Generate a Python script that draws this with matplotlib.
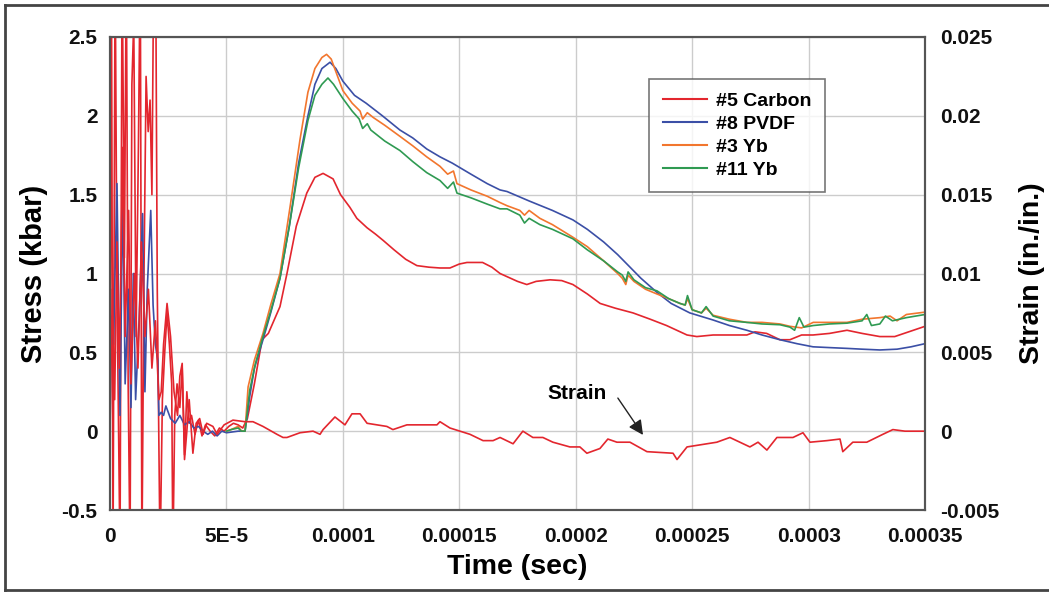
import matplotlib
matplotlib.use("Agg")
import matplotlib.pyplot as plt
from matplotlib.lines import Line2D
import numpy as np

# ---------------- data (time in microseconds, stress in kbar) ----------------
carbon_t = [0, 0.6, 1.3, 2.2, 3.0, 4.3, 5.2, 6.2, 7.0, 7.8, 8.6, 9.4, 10.2, 11.2, 12.2, 13.0,
            13.7, 14.6, 15.5, 16.4, 17.2, 18.0, 18.8, 19.6, 20.3, 21.5, 22.5, 23.5, 24.5,
            25.5, 26.5, 27.0, 27.8, 28.8, 30.0, 31.0, 32.0, 33.0, 34.0, 35.0, 36.5, 38, 39.5,
            41, 43, 45, 47, 49, 51, 53, 55, 57, 59, 62, 65.3, 68, 73, 76, 80, 84.5, 88, 91.5,
            95.8, 99, 103, 106, 110.4, 114, 117.3, 122, 127, 131.8, 137, 141.7, 146, 150,
            153.3, 156, 160, 164, 167.5, 170.5, 175, 179, 183, 189, 194, 198.8, 205, 210.5,
            217, 224.6, 232, 239, 247.8, 252, 259, 266, 273.5, 277, 282, 287.7, 292, 297,
            301.9, 309, 316.5, 323, 330.6, 337, 343, 350]
carbon_v = [0, 3.0, -0.8, 3.0, 0.9, -0.8, 3.0, 1.1, 3.0, 0.3, -0.8, 2.2, 2.6, 0.6, 1.8, 3.0,
            -0.8, 1.0, 2.25, 1.9, 2.1, 1.5, 3.0, 3.0, 0.9, -0.8, 0.2, 0.5, 0.75,
            0.55, 0.3, -0.8, 0.1, 0.3, 0.15, 0.4, -0.15, 0.25, 0.05, 0.1, -0.02, 0.07, -0.03,
            0.04, 0.0, -0.03, 0.02, 0.0, 0.03, 0.05, 0.04, 0.02, 0.08, 0.3, 0.58, 0.62, 0.79,
            1.0, 1.3, 1.51, 1.61, 1.635,
            1.6, 1.5, 1.42, 1.35, 1.29, 1.25, 1.21, 1.15, 1.09, 1.05, 1.04, 1.035, 1.035, 1.06,
            1.07, 1.07, 1.07, 1.04, 1.0, 0.98, 0.95, 0.93, 0.95, 0.96, 0.955, 0.93, 0.87, 0.81,
            0.78, 0.75, 0.71, 0.67, 0.61, 0.60, 0.61, 0.61, 0.61, 0.63, 0.62, 0.58, 0.58, 0.61,
            0.61, 0.62, 0.64, 0.62, 0.60, 0.60, 0.63, 0.665]

pvdf_t = [0, 0.5, 1.5, 3.0, 4.3, 5.5, 6.5, 8.0, 9.0, 10.0, 11.0, 12.5, 14.0, 15.0, 16.0, 17.5,
          18.5, 19.5, 20.5, 21.0, 22.0, 23.0, 24.0, 26.0, 28.0, 30.0, 32.0, 34.0, 36.0, 38.0,
          40.0, 42.0, 44.0, 46.0, 48.0, 50.0, 55.0, 58, 60, 62, 65.7, 69, 73, 77, 81, 85,
          88, 91, 94.5, 97, 100, 105, 110, 117, 124.5, 130, 136, 141.7, 147, 155, 162, 167.5,
          170.5, 180, 190, 198.8, 205, 212, 218, 222, 228, 234.9, 241, 249, 259, 266, 273.5,
          280, 287.7, 295, 301.9, 309, 316.5, 323, 330.6, 338, 344, 350]
pvdf_v = [0.0, 0.73, 0.55, 1.57, 0.1, 1.57, 0.3, 0.9, 0.15, 1.0, 0.2, 0.7, 1.38, 0.25, 0.9, 1.4,
          0.8, 0.55, 0.45, 0.1, 0.12, 0.1, 0.16, 0.08, 0.05, 0.1, 0.04, 0.06, 0.02, 0.03,
          0.0, -0.02, 0.0, -0.03, 0.0, -0.01, 0.0, 0.0, 0.22, 0.40, 0.58, 0.75, 0.97, 1.3,
          1.7, 2.0, 2.2, 2.3, 2.34, 2.3, 2.22, 2.13, 2.08, 2.0, 1.91, 1.86, 1.79, 1.74, 1.70,
          1.63, 1.57, 1.53, 1.52, 1.46, 1.40, 1.34, 1.28, 1.20, 1.12, 1.06, 0.97, 0.88, 0.81,
          0.75, 0.705, 0.67, 0.64, 0.61, 0.58, 0.555, 0.535, 0.53, 0.525, 0.52, 0.515, 0.52,
          0.535, 0.555]

yb3_t = [50, 52, 55, 56.5, 58, 59.3, 62, 65.7, 69, 73, 77.3, 81.6, 85, 88, 91, 93, 95, 97, 100,
         104, 107.4, 108.5, 110.5, 113, 118, 124.5, 130, 136, 141.7, 145, 147.5, 149, 155, 162,
         167.5, 170.5, 176, 178, 180, 184.6, 190, 198.8, 205, 212, 218, 220, 221.5, 222.5, 225,
         230, 234.9, 240, 244.8, 247, 248, 250, 254, 256, 259, 266, 273.5, 280, 287.7, 292,
         297, 302, 309, 316.5, 323, 330.6, 335, 338, 342, 350]
yb3_v = [0.0, 0.01, 0.03, 0.0, 0.0, 0.28, 0.45, 0.62, 0.80, 1.0, 1.42, 1.85, 2.15, 2.3, 2.37,
         2.39, 2.36, 2.28, 2.16, 2.08, 2.03, 1.98, 2.02, 1.99, 1.94, 1.87, 1.81, 1.74, 1.68,
         1.63, 1.65, 1.57, 1.53, 1.49, 1.45, 1.43, 1.40, 1.37, 1.40, 1.35, 1.31, 1.23, 1.17,
         1.08, 1.0, 0.97, 0.93, 0.99, 0.95, 0.90, 0.87, 0.84, 0.81, 0.80, 0.84, 0.77, 0.75,
         0.78, 0.735, 0.71, 0.69, 0.69, 0.68, 0.665, 0.655, 0.69, 0.69, 0.69, 0.71, 0.72,
         0.73, 0.70, 0.74, 0.755]

yb11_t = [50, 52, 55, 56.5, 58, 60, 62.5, 65.7, 69, 73, 77, 81, 85, 88, 91, 93.6, 96, 100, 104,
          107, 108.5, 110.5, 112, 118, 124.5, 130, 136, 141.7, 145, 147.5, 149, 155, 162, 167.5,
          170.5, 176, 178, 180, 184.6, 190, 198.8, 205, 212, 218, 220, 221.5, 222.5, 225, 230,
          234.9, 240, 244.8, 247, 248, 250, 254, 256, 259, 266, 273.5, 280, 287.7, 292, 294,
          296, 298, 302, 309, 316.5, 323, 325, 327, 330.6, 333, 336, 342, 350]
yb11_v = [0.0, 0.01, 0.02, 0.0, 0.0, 0.26, 0.43, 0.60, 0.76, 0.97, 1.3, 1.67, 1.97, 2.13, 2.2,
          2.24, 2.2, 2.11, 2.03, 1.98, 1.92, 1.95, 1.91, 1.84, 1.78, 1.71, 1.64, 1.59, 1.54,
          1.58, 1.51, 1.48, 1.44, 1.41, 1.41, 1.37, 1.32, 1.35, 1.31, 1.28, 1.22, 1.15, 1.08,
          1.01, 0.99, 0.95, 1.01, 0.96, 0.91, 0.89, 0.84, 0.81, 0.80, 0.86, 0.77, 0.75, 0.79,
          0.73, 0.70, 0.69, 0.68, 0.675, 0.66, 0.64, 0.72, 0.66, 0.67, 0.68, 0.685, 0.70,
          0.74, 0.67, 0.68, 0.73, 0.70, 0.72, 0.74]

# strain (in./in.), right axis
strain_t = [0, 1, 2, 3, 4, 5.5, 6.5, 8, 9, 10.5, 12, 13.5, 15, 16.5, 18, 19.5, 21, 22, 23, 24.5,
            26, 27.5, 29, 30, 31, 32, 33, 34, 35.6, 37, 38.5, 40, 41.5, 44.2, 46, 49, 52.8, 58,
            61.4, 65.7, 71.7, 74.3, 76, 81.6, 87.2, 90.2, 91.5, 96.6, 100.9, 103.9, 107.4,
            110.4, 118.9, 121.5, 127.5, 133.1, 140.4, 141.7, 146, 150.3, 154.6, 160.2, 164.5,
            167.5, 173.1, 177.3, 181.6, 185.9, 190.2, 197.5, 201.8, 204.8, 210.4, 213.8,
            217.7, 223.3, 230.6, 241.8, 243.5, 247.8, 260.6, 266.2, 274.8, 278.3, 282.1,
            286.4, 293.3, 297.6, 300.6, 307.9, 313.5, 314.7, 319, 325, 331.9, 336.2, 341.4, 350]
strain_v = [0, 0.009, 0.002, 0.012, 0.004, 0.018, 0.006, 0.014, 0.003, 0.010, 0.004, 0.012,
            0.006, 0.009, 0.004, 0.007, 0.002, 0.0025, 0.0055, 0.0081, 0.006, 0.0025, 0.001,
            0.0035, 0.0043, -0.0018, 0.0, 0.002, -0.0014, 0.0005, 0.0008, -0.0002, 0.0005,
            0.0003, -0.0002, 0.0004, 0.0007, 0.0006, 0.0006, 0.0003, -0.0002, -0.0004,
            -0.0004, -0.0001, 0.0, -0.0002, 0.0001, 0.0009, 0.0004, 0.0011, 0.0011, 0.0005,
            0.0003, 0.0001, 0.0004, 0.0004, 0.0004, 0.0006, 0.0002, 0.0, -0.0002, -0.0006,
            -0.0006, -0.0004, -0.0008, 0.0, -0.0004, -0.0004, -0.0007, -0.001, -0.001,
            -0.0014, -0.0011, -0.0005, -0.0007, -0.0007, -0.0013, -0.0014, -0.0018, -0.001,
            -0.0007, -0.0004, -0.001, -0.0007, -0.0012, -0.0004, -0.0004, -0.0001, -0.0007,
            -0.0006, -0.0005, -0.0013, -0.0007, -0.0007, -0.0002, 0.0001, 0.0, 0.0]

x_ticks = [0, 5e-5, 1e-4, 1.5e-4, 2e-4, 2.5e-4, 3e-4, 3.5e-4]
x_labels = ["0", "5E-5", "0.0001", "0.00015", "0.0002", "0.00025", "0.0003", "0.00035"]
y_ticks = [-0.5, 0, 0.5, 1, 1.5, 2, 2.5]
y_labels = ["-0.5", "0", "0.5", "1", "1.5", "2", "2.5"]
y2_ticks = [-0.005, 0, 0.005, 0.01, 0.015, 0.02, 0.025]
y2_labels = ["-0.005", "0", "0.005", "0.01", "0.015", "0.02", "0.025"]

US = 1e-6

# ---------------- style ----------------
plt.rcParams['font.family'] = ['Liberation Sans', 'DejaVu Sans']
plt.rcParams['font.weight'] = 'bold'

RED = '#e3262e'
BLUE = '#3b4fa6'
ORANGE = '#f2762e'
GREEN = '#2f9a52'
SPINE = '#555555'
GRID = '#cccccc'

fig = plt.figure(figsize=(10.49, 5.92), dpi=100)
ax = fig.add_axes([110/1049, 1-510/592, 815/1049, 473/592])
ax2 = ax.twinx()

def tt(lst):
    return np.array(lst) * US

lw = 1.2
ax.plot(tt(carbon_t), carbon_v, color=RED, lw=lw, label="#5 Carbon", zorder=3)
ax.plot(tt(pvdf_t), pvdf_v, color=BLUE, lw=lw, label="#8 PVDF", zorder=3)
ax.plot(tt(yb3_t), yb3_v, color=ORANGE, lw=lw, label="#3 Yb", zorder=3)
ax.plot(tt(yb11_t), yb11_v, color=GREEN, lw=lw, label="#11 Yb", zorder=3)
ax2.plot(tt(strain_t), strain_v, color=RED, lw=lw)

ax.set_xlim(0, 3.5e-4)
ax.set_ylim(-0.5, 2.5)
ax2.set_ylim(-0.005, 0.025)

ax.set_xticks(x_ticks)
ax.set_xticklabels(x_labels)
ax.set_yticks(y_ticks)
ax.set_yticklabels(y_labels)
ax2.set_yticks(y2_ticks)
ax2.set_yticklabels(y2_labels)

for a in (ax, ax2):
    a.tick_params(length=0, labelsize=15, colors='#111111')
    for s in a.spines.values():
        s.set_color(SPINE)
        s.set_linewidth(1.5)
ax.tick_params(axis='x', pad=12)
ax.tick_params(axis='y', pad=9)
ax2.tick_params(axis='y', pad=11)

ax.grid(True, color=GRID, lw=1.0)
ax.set_axisbelow(True)

ax.set_xlabel("Time (sec)", fontsize=20.5, fontweight='bold', labelpad=6)
ax.set_ylabel("Stress (kbar)", fontsize=21, fontweight='bold', labelpad=10)
ax2.set_ylabel("Strain (in./in.)", fontsize=20.5, fontweight='bold', labelpad=14)

leg = ax.legend(loc='upper left', bbox_to_anchor=(649/1049, 1-79/592),
                bbox_transform=fig.transFigure, fontsize=14, frameon=True,
                fancybox=False, handlelength=2.3, handletextpad=0.45,
                labelspacing=0.27, borderpad=0.7, borderaxespad=0)
leg.get_frame().set_edgecolor(SPINE)
leg.get_frame().set_linewidth(1.2)
for h in leg.get_lines():
    h.set_linewidth(1.5)

ax2.text(200.5*US, 0.0024, "Strain", fontsize=15, fontweight='bold',
         ha='center', va='center')
ax2.annotate("", xy=(228.9*US, -0.00024), xytext=(218.1*US, 0.0021),
             arrowprops=dict(arrowstyle='-|>', color='#222222', lw=1.0,
                             mutation_scale=22, shrinkA=0, shrinkB=0))

# figure frame (top, left, bottom)
fx0, fy0, fy1 = 5/1049, 1-590/592, 1-5/592
for xs, ys in [([fx0, 1], [fy1, fy1]), ([fx0, fx0], [fy0, fy1]), ([fx0, 1], [fy0, fy0])]:
    fig.add_artist(Line2D(xs, ys, transform=fig.transFigure, color='#444444', lw=2))

fig.savefig("out.png", dpi=100)
